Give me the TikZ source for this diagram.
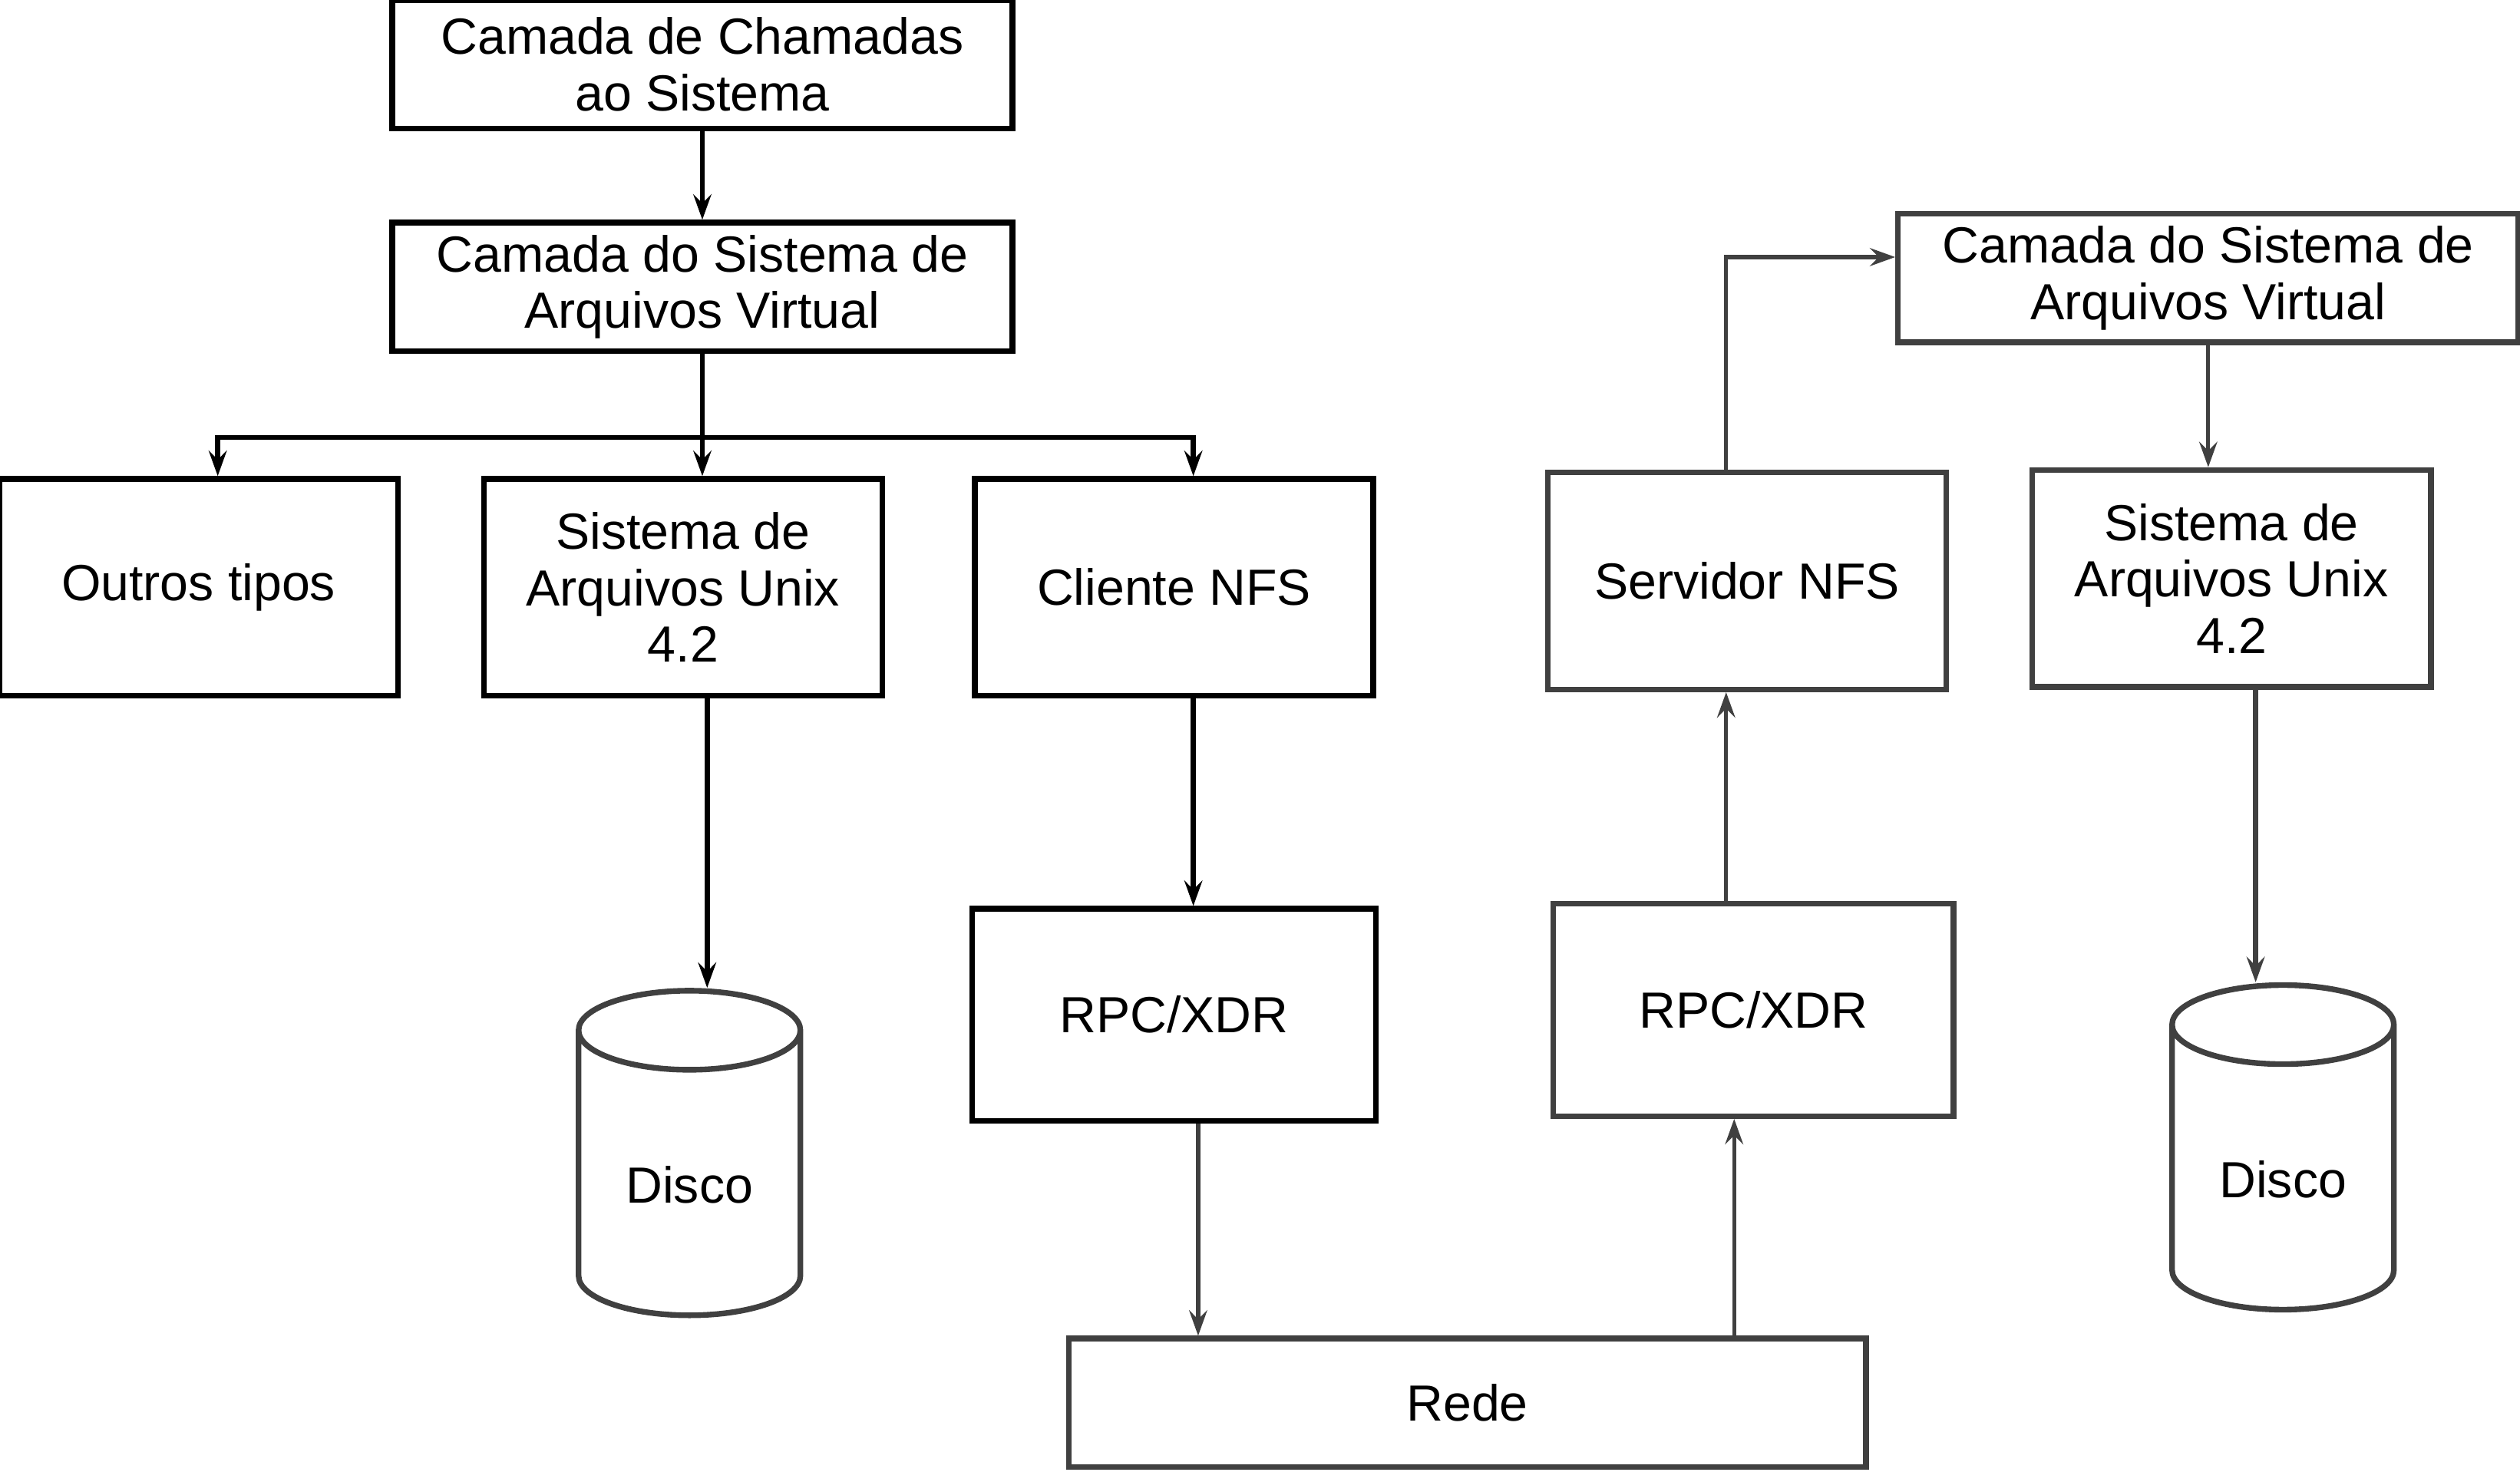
\documentclass[tikz,border=0pt]{standalone}
\usepackage{fontspec}
\setmainfont{Liberation Sans}
\usetikzlibrary{positioning,shapes.geometric,arrows.meta}
\definecolor{boxgray}{RGB}{64,64,64}
\tikzset{
  layer/.style={draw=black, line width=1pt, align=center, inner sep=2pt, font=\fontsize{9pt}{10pt}\selectfont},
  wide layer/.style={layer, minimum width=3.86cm, minimum height=0.8cm},
  tall layer/.style={layer, minimum width=2.48cm, minimum height=1.35cm},
  gray layer/.style={draw=boxgray},
  disk/.style={cylinder, shape border rotate=90, aspect=0.48, draw=boxgray, line width=1pt, minimum width=1.38cm, minimum height=2.02cm, font=\fontsize{9pt}{10pt}\selectfont},
  flow/.style={-{Stealth[length=4.5pt,width=3.2pt,inset=1.6pt]}, line width=0.7pt},
  gray flow/.style={flow, draw=boxgray},
}
\begin{document}
\begin{tikzpicture}
\useasboundingbox (0,0) rectangle (15.68,-9.16);
%the client side
\node [wide layer] (camChamadas) at (4.37,-0.40) {Camada de Chamadas\\ao Sistema};
\node [wide layer,below=0.55cm of camChamadas] (vfsCliente) {Camada do Sistema de\\Arquivos Virtual};
\node [tall layer,below=0.76cm of vfsCliente,xshift=-1.2mm] (unixCliente) {Sistema de\\Arquivos Unix\\4.2};
\node [tall layer,left=0.5cm of unixCliente] (outros) {Outros tipos};
\node [tall layer,right=0.54cm of unixCliente] (clienteNFS) {Cliente NFS};
\node [disk,below=1.80cm of unixCliente,xshift=0.4mm] (discoCliente) {Disco};
\node [layer,minimum width=2.51cm,minimum height=1.32cm,below=1.29cm of clienteNFS] (rpcCliente) {RPC/XDR};
%the network
\node [layer,gray layer,minimum width=4.96cm,minimum height=0.8cm] (rede) at (9.13,-8.73) {Rede};
%the server side
\node [layer,gray layer,minimum width=2.49cm,minimum height=1.32cm,right=1.07cm of rpcCliente,yshift=0.3mm] (rpcServidor) {RPC/XDR};
\node [tall layer,gray layer,above=1.30cm of rpcServidor,xshift=-0.4mm] (servidorNFS) {Servidor NFS};
\node [wide layer,gray layer] (vfsServidor) at (13.74,-1.73) {Camada do Sistema de\\Arquivos Virtual};
\node [tall layer,gray layer,below=0.76cm of vfsServidor,xshift=1.45mm] (unixServidor) {Sistema de\\Arquivos Unix\\4.2};
\node [disk,below=1.82cm of unixServidor,xshift=3.2mm] (discoServidor) {Disco};
%drawings of arrows
\draw[flow] (camChamadas.south) -- (camChamadas.south |- vfsCliente.north);
\draw[line width=0.9pt] (vfsCliente.south) -- ++(0,-0.52) coordinate (ramo);
\draw[flow,line width=0.9pt] (ramo) -| ([xshift=1.2mm]outros.north);
\draw[flow,line width=0.9pt] (ramo) -| ([xshift=1.2mm]clienteNFS.north);
\draw[flow] (ramo) -- (ramo |- unixCliente.north);
\draw[flow,line width=1pt] ([xshift=1.5mm]unixCliente.south) -- ([xshift=1.5mm]unixCliente.south |- discoCliente.north);
\draw[flow,line width=1pt] ([xshift=1.2mm]clienteNFS.south) -- ([xshift=1.2mm]clienteNFS.south |- rpcCliente.north);
\draw[gray flow] ([xshift=1.5mm]rpcCliente.south) -- ([xshift=1.5mm]rpcCliente.south |- rede.north);
\draw[gray flow] ([xshift=-1.2mm]rpcServidor.south |- rede.north) -- ([xshift=-1.2mm]rpcServidor.south);
\draw[gray flow] ([xshift=-1.3mm]servidorNFS.south |- rpcServidor.north) -- ([xshift=-1.3mm]servidorNFS.south);
\draw[gray flow] ([xshift=-1.3mm]servidorNFS.north) |- ([yshift=1.3mm]vfsServidor.west);
\draw[gray flow] (vfsServidor.south) -- (vfsServidor.south |- unixServidor.north);
\draw[gray flow,line width=1pt] ([xshift=1.5mm]unixServidor.south) -- ([xshift=1.5mm]unixServidor.south |- discoServidor.north);
\end{tikzpicture}
\end{document}
